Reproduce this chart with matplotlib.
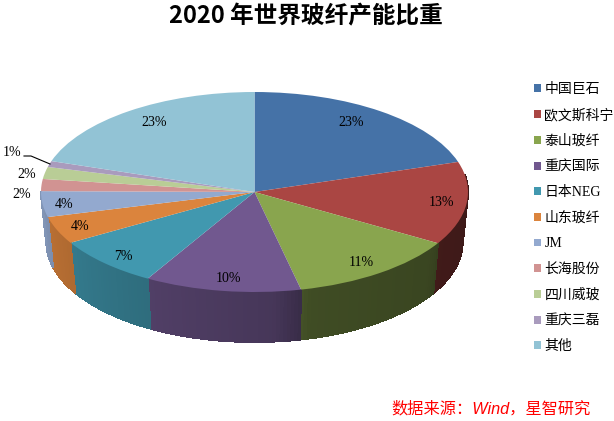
import numpy as np
import matplotlib
matplotlib.use("Agg")
import matplotlib.pyplot as plt
from matplotlib.collections import PolyCollection

plt.rcParams['font.family'] = ['Liberation Serif', 'Noto Sans CJK SC', 'DejaVu Sans']

# names, printed labels, and slice sweep (degrees)
companies = ['中国巨石', '欧文斯科宁', '泰山玻纤', '重庆国际', '日本NEG', '山东玻纤',
             'JM', '长海股份', '四川威玻', '重庆三磊', '其他']
printed = ['23%', '13%', '11%', '10%', '7%', '4%', '4%', '2%', '2%', '1%', '23%']
sweep = [72.5, 48.3, 46.6, 42.6, 29.5, 16, 15, 7, 7, 3.5, 72]
colors = ['#4572A7', '#AA4643', '#89A54E', '#71588F', '#4198AF', '#DB843D',
          '#93A9CF', '#D19392', '#B9CD96', '#A99BBD', '#92C3D5']
label_px = [(351, 122), (441, 202), (361, 262), (228, 278), (123, 256), (80, 226),
            (64, 204), (22, 195), (27, 174), (12, 153), (154, 122)]

W, H = 614, 421
DEPTH = 0.5  # wall height, in units of the ellipse's vertical radius
BOTTOM_X = 0.975  # lower rim is a little narrower (perspective)

fig = plt.figure(figsize=(W / 100, H / 100), dpi=100, facecolor='white')
ax = fig.add_axes([41 / W, 1 - 292 / H, 427 / W, 200 / H])

wedges, _ = ax.pie(sweep, colors=colors, startangle=90, counterclock=False, radius=1,
                   wedgeprops={'linewidth': 0, 'zorder': 3, 'antialiased': True})
ax.set_aspect('auto')
ax.set_xlim(-1, 1)
ax.set_ylim(-1, 1)
ax.axis('off')
for w in wedges:
    w.set_clip_on(False)

# side wall, shaded darker towards the right
shade_at = [90, 120, 125, 165, 175, 205, 240, 270]
shade = [0.36, 0.38, 0.42, 0.46, 0.62, 0.70, 0.80, 0.88]
edges = np.cumsum([0] + sweep)
polys, fills = [], []
for i, c in enumerate(colors):
    a = max(edges[i], 80)
    b = min(edges[i + 1], 270)
    if b <= a:
        continue
    steps = np.arange(a, b + 1, 1.0)
    steps[-1] = b
    rgb = np.array(matplotlib.colors.to_rgb(c))
    for t0, t1 in zip(steps[:-1], steps[1:]):
        r0, r1 = np.radians(t0), np.radians(t1)
        polys.append([(np.sin(r0), np.cos(r0)), (np.sin(r1), np.cos(r1)),
                      (BOTTOM_X * np.sin(r1), np.cos(r1) - DEPTH),
                      (BOTTOM_X * np.sin(r0), np.cos(r0) - DEPTH)])
        fills.append(rgb * np.interp((t0 + t1) / 2, shade_at, shade))
ax.add_collection(PolyCollection(polys, facecolors=fills, edgecolors=fills, linewidths=0.7,
                                 antialiaseds=False, zorder=1, clip_on=False))

for txt, (px, py) in zip(printed, label_px):
    fig.text(px / W, 1 - py / H, txt, ha='center', va='center', fontsize=10, color='black')

# leader line of the 1% label
fig.add_artist(plt.Line2D([24 / W, 31 / W, 50 / W], [1 - 156 / H, 1 - 156 / H, 1 - 164 / H],
                          color='black', lw=0.8))

fig.text(306 / W, 1 - 16 / H, '2020 年世界玻纤产能比重', ha='center', va='center',
         fontsize=17, fontweight='bold', family=['Noto Sans CJK SC', 'DejaVu Sans'])

fig.legend(wedges, companies, loc='upper left', bbox_to_anchor=(534 / W, 1 - 83 / H),
           frameon=False, fontsize=10, handlelength=0.5, handleheight=0.5,
           handletextpad=0.25, labelspacing=0.9, borderpad=0, borderaxespad=0)

fig.text(491 / W, 1 - 409 / H, '数据来源：Wind，星智研究', ha='center', va='center', color='#FF0000',
         fontsize=11.7, style='italic', family=['Liberation Sans', 'Noto Sans CJK SC'])

fig.savefig('out.png', dpi=100)
